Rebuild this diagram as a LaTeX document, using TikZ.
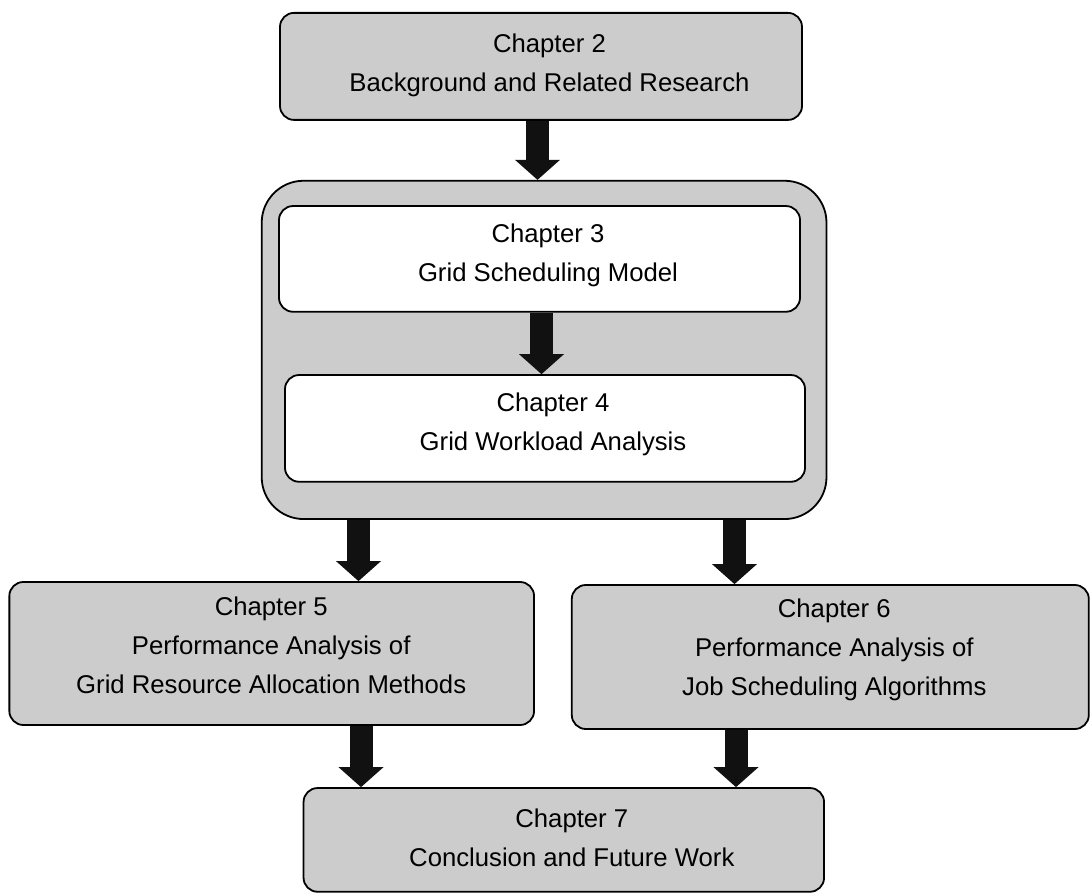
\documentclass[tikz,border=0pt]{standalone}
\usepackage{fontspec}
\setmainfont{Liberation Sans}
\usetikzlibrary{arrows.meta}
\definecolor{boxgray}{RGB}{204,204,204}
\definecolor{arrowblack}{RGB}{17,17,17}
\begin{document}
\begin{tikzpicture}[x=1pt,y=-1pt,
  chapbox/.style={draw=black, line width=1.8pt, fill=boxgray, rounded corners=14pt, inner sep=0pt},
  innerbox/.style={chapbox, fill=white},
  groupbox/.style={chapbox, rounded corners=42pt},
  chaptext/.style={font=\fontsize{25.7}{39}\selectfont, align=center, inner sep=0pt},
  flow/.style={draw=arrowblack, line width=23pt,
    -{Triangle[width=45pt,length=20pt,line width=0pt,fill=arrowblack]}}
]
\useasboundingbox (0,0) rectangle (1090,893);

% boxes
\node[chapbox, minimum width=522pt, minimum height=107pt] (ch2) at (541,66.4) {};
\node[groupbox, minimum width=564.8pt, minimum height=338.3pt] (grp) at (544.1,349.9) {};
\node[innerbox, minimum width=521pt, minimum height=105.7pt] (ch3) at (539.5,258.9) {};
\node[innerbox, minimum width=520pt, minimum height=106.7pt] (ch4) at (545,428.4) {};
\node[chapbox, minimum width=524.7pt, minimum height=143pt] (ch5) at (271.7,653.5) {};
\node[chapbox, minimum width=517pt, minimum height=144pt] (ch6) at (830.3,657) {};
\node[chapbox, minimum width=520.5pt, minimum height=103.7pt] (ch7) at (563.8,839.9) {};

% chapter titles
\node[chaptext] (t2) at ([xshift=8.5pt,yshift=1pt]ch2.center) {Chapter 2\\Background and Related Research};
\node[chaptext] (t3) at ([xshift=8.5pt,yshift=4pt]ch3.center) {Chapter 3\\Grid Scheduling Model};
\node[chaptext] (t4) at ([xshift=8pt,yshift=4pt]ch4.center) {Chapter 4\\Grid Workload Analysis};
\node[chaptext] (t5) at ([xshift=-0.5pt,yshift=8pt]ch5.center) {Chapter 5\\Performance Analysis of\\Grid Resource Allocation Methods};
\node[chaptext] (t6) at ([xshift=4pt,yshift=7.5pt]ch6.center) {Chapter 6\\Performance Analysis of\\Job Scheduling Algorithms};
\node[chaptext] (t7) at ([xshift=8pt,yshift=2pt]ch7.center) {Chapter 7\\Conclusion and Future Work};

% arrow columns
\coordinate (a1) at (537.5,0);
\coordinate (a2) at (541.5,0);
\coordinate (a3) at (358.5,0);
\coordinate (a4) at (734.5,0);
\coordinate (a5) at (361,0);
\coordinate (a6) at (736,0);

% block arrows
\draw[flow] (ch2.south -| a1) -- (grp.north -| a1);
\draw[flow] (ch3.south -| a2) -- (ch4.north -| a2);
\draw[flow] (grp.south -| a3) -- (ch5.north -| a3);
\draw[flow] (grp.south -| a4) -- (ch6.north -| a4);
\draw[flow] (ch5.south -| a5) -- (ch7.north -| a5);
\draw[flow] (ch6.south -| a6) -- (ch7.north -| a6);
\end{tikzpicture}
\end{document}
